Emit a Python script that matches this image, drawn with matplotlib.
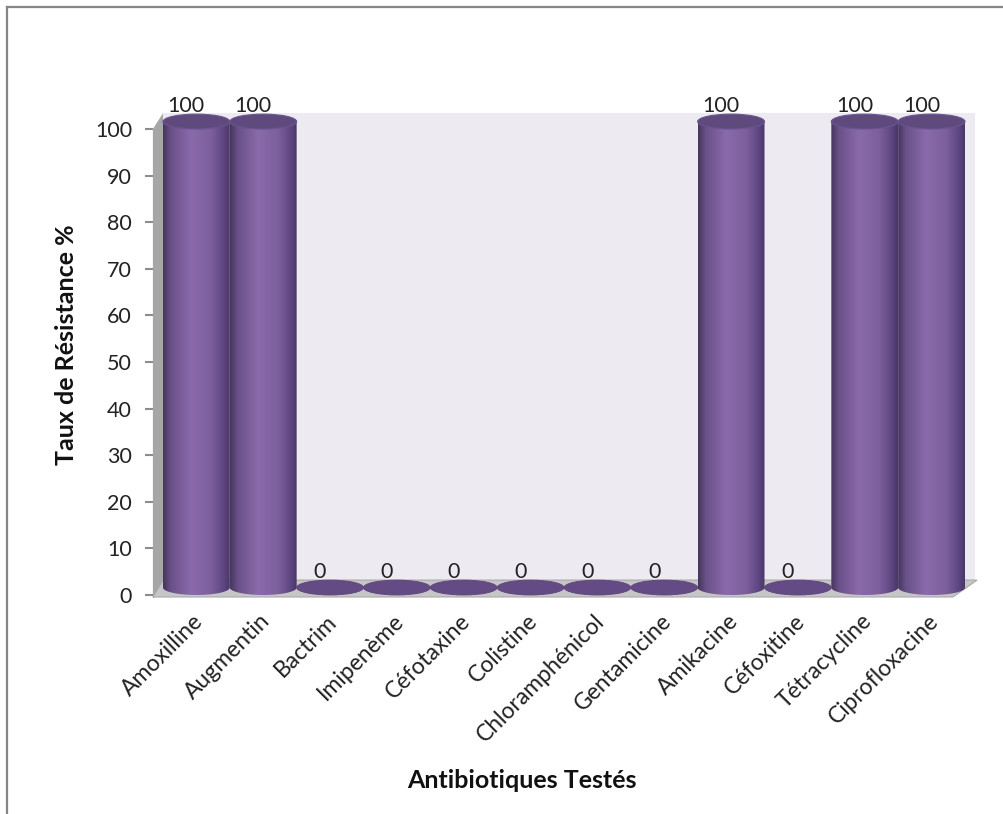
import numpy as np
import matplotlib.pyplot as plt
from matplotlib.patches import Polygon, Ellipse
from matplotlib.colors import LinearSegmentedColormap
from matplotlib.lines import Line2D

antibiotiques = ['Amoxilline', 'Augmentin', 'Bactrim', 'Imipenème', 'Céfotaxine', 'Colistine',
                 'Chloramphénicol', 'Gentamicine', 'Amikacine', 'Céfoxitine', 'Tétracycline',
                 'Ciprofloxacine']
resistance = [100, 100, 0, 0, 0, 0, 0, 0, 100, 0, 100, 100]
y_ticks = [0, 10, 20, 30, 40, 50, 60, 70, 80, 90, 100]

plt.rcParams['font.family'] = ['Lato', 'DejaVu Sans']

fig = plt.figure(figsize=(10.04, 8.14), dpi=100)
ax = fig.add_axes([0.149, 0.2576, 0.8288, 0.6297])
ax.set_facecolor('none')

# 3d-ish box: back wall, floor, side wall
ax.add_patch(Polygon([(-0.5, 3.2), (11.65, 3.2), (11.65, 103.4), (-0.5, 103.4)],
                     closed=True, fc='#EDEAF2', ec='none', zorder=0))
ax.add_patch(Polygon([(-0.65, -0.43), (11.32, -0.43), (11.68, 3.2), (-0.5, 3.2)],
                     closed=True, fc='#C6C6C6', ec='#A8A8A8', lw=0.8, zorder=1))
ax.add_patch(Polygon([(-0.65, -0.43), (-0.65, 100), (-0.5, 103.4), (-0.5, 3.2)],
                     closed=True, fc='#A6A6A6', ec='none', zorder=1))

cyl = LinearSegmentedColormap.from_list('cyl', [
    (0.0, '#47355F'), (0.12, '#6A5189'), (0.42, '#8A6AAB'),
    (0.72, '#7C5F9D'), (0.92, '#5C4480'), (1.0, '#483663')])

base = 1.6   # depth offset of the cylinder axis
b = 1.6      # half height of the ellipses

for i, v in enumerate(resistance):
    cx = i
    if v > 0:
        top = v + base
        t = np.linspace(np.pi, 2 * np.pi, 60)
        pts = list(zip(cx + 0.5 * np.cos(t), base + b * np.sin(t)))
        pts += [(cx + 0.5, top), (cx - 0.5, top)]
        body = Polygon(pts, closed=True, fc='none', ec='none', zorder=3)
        ax.add_patch(body)
        grad = np.linspace(0, 1, 256).reshape(1, -1)
        im = ax.imshow(grad, extent=(cx - 0.5, cx + 0.5, base - b, top), aspect='auto',
                       cmap=cyl, interpolation='bilinear', zorder=3 + i * 0.01)
        im.set_clip_path(body)
        ax.add_patch(Ellipse((cx, top), 1.0, 2 * b, fc='#5F4A7E', ec='#6B5490', lw=0.8,
                             zorder=4 + i * 0.01))
    else:
        ax.add_patch(Ellipse((cx, base), 1.0, 2 * b, fc='#654B85', ec='#5C4479', lw=0.6,
                             zorder=4))
    ax.text(i - 0.15, v + 5, str(v), ha='center', va='center', fontsize=15.5,
            color='#222222', zorder=6)

for i, name in enumerate(antibiotiques):
    ax.text(i - 0.06, -3.3, name, rotation=45, ha='right', va='top', rotation_mode='anchor',
            fontsize=16.5, color='#222222')

ax.set_xlim(-0.7, 11.75)
ax.set_ylim(-2, 108)
ax.set_xticks([])
ax.set_yticks(y_ticks)
ax.tick_params(axis='y', length=6, width=1.5, color='#8C8C8C', pad=9, labelsize=15.5,
               labelcolor='#222222')
for s in ['top', 'right', 'bottom']:
    ax.spines[s].set_visible(False)
ax.spines['left'].set_position(('data', -0.65))
ax.spines['left'].set_bounds(-0.43, 100)
ax.spines['left'].set_color('#A6A6A6')

fig.text(67 / 1004, 1 - 345 / 814, 'Taux de Résistance %', rotation=90, ha='center',
         va='center', fontsize=18, fontweight='bold', color='#111111')
fig.text(522 / 1004, 1 - 780 / 814, 'Antibiotiques Testés', ha='center', va='center',
         fontsize=18, fontweight='bold', color='#111111')

# chart frame (only top and left edges visible)
fig.add_artist(Line2D([7 / 1004, 7 / 1004], [0, 1 - 7 / 814], transform=fig.transFigure,
                      color='#868686', lw=1.6))
fig.add_artist(Line2D([7 / 1004, 1], [1 - 7 / 814, 1 - 7 / 814], transform=fig.transFigure,
                      color='#868686', lw=1.6))

fig.savefig('out.png', dpi=100)
